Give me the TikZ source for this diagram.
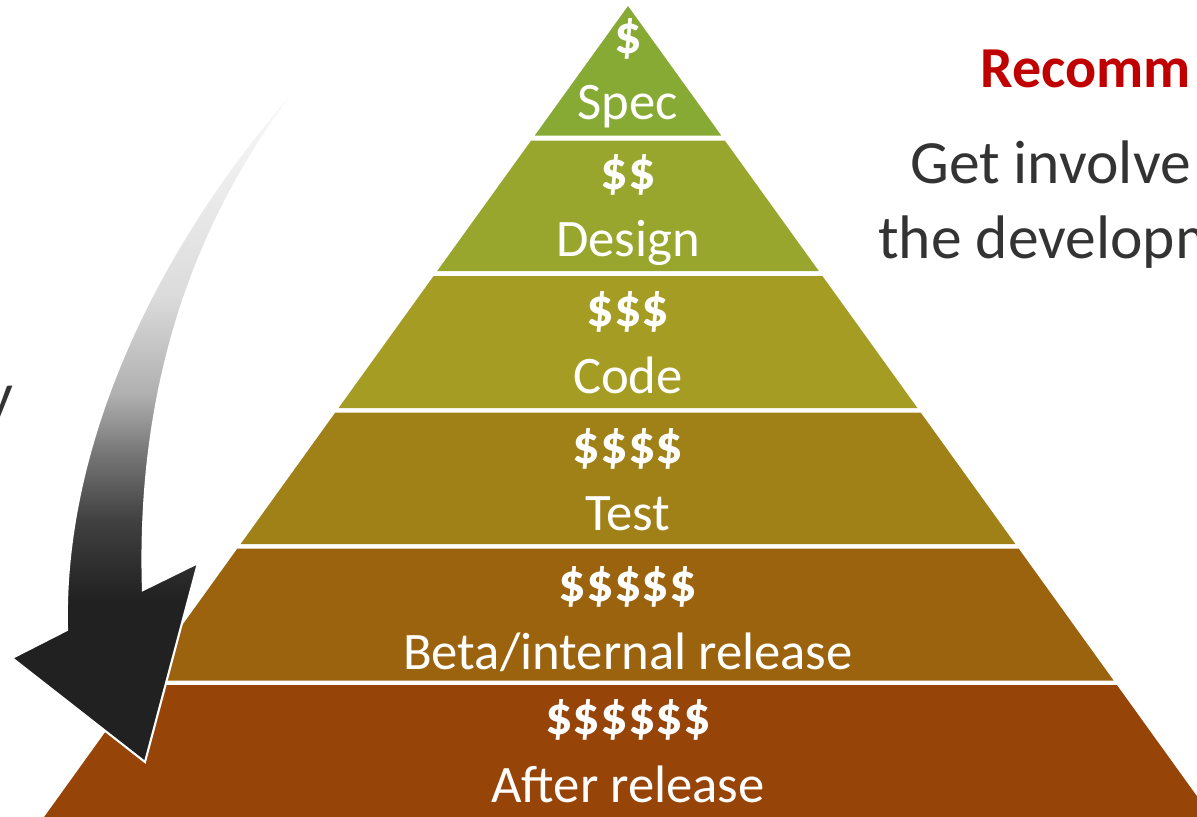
\documentclass[tikz,border=0pt]{standalone}
\usepackage{fontspec}
\setmainfont{Carlito}

\definecolor{specgreen}{HTML}{86AA34}
\definecolor{designgreen}{HTML}{98A62D}
\definecolor{codeolive}{HTML}{A59D23}
\definecolor{testolive}{HTML}{A08118}
\definecolor{betabrown}{HTML}{9C630E}
\definecolor{afterbrown}{HTML}{974408}
\definecolor{recred}{HTML}{C00000}
\definecolor{textgray}{HTML}{333333}

% fading for the big arrow, top is white, bottom is almost black
\pgfdeclareverticalshading{arrowfade}{100bp}{color(0bp)=(black!87); color(36.5bp)=(black!87);
  color(42bp)=(black!75); color(47bp)=(black!53); color(51bp)=(black!31); color(58bp)=(black!14);
  color(67.5bp)=(black!6); color(75bp)=(white); color(100bp)=(white)}

\begin{document}
\begin{tikzpicture}[x=0.02cm,y=-0.02cm,
    cost/.style={font=\fontsize{31}{37}\selectfont\bfseries,text=white,anchor=base,inner sep=0pt},
    stage/.style={font=\fontsize{30}{36}\selectfont,text=white,anchor=base,inner sep=0pt},
    side text/.style={font=\fontsize{35}{42}\selectfont,text=textgray,anchor=base west,inner sep=0pt}]

    \useasboundingbox (0,0) rectangle (1197,816);
    \clip (0,0) rectangle (1197,816);

    % pyramid layers
    \foreach \ya/\yb/\col in {6/135.5/specgreen,140.5/271/designgreen,276/408/codeolive,
                              412.5/544/testolive,548.5/680.5/betabrown,685/830/afterbrown}
        \fill[\col] ({628-0.72*(\ya-6)},\ya) -- ({628+0.72*(\ya-6)},\ya)
                 -- ({628+0.72*(\yb-6)},\yb) -- ({628-0.72*(\yb-6)},\yb) -- cycle;

    \node[cost] (c1) at (628,53) {\$};
    \node[stage] (s1) at (628,119) {Spec};
    \node[cost] (c2) at (628,189) {\$\$};
    \node[stage] (s2) at (628,256) {Design};
    \node[cost] (c3) at (628,326) {\$\$\$};
    \node[stage] (s3) at (628,393) {Code};
    \node[cost] (c4) at (628,463) {\$\$\$\$};
    \node[stage] (s4) at (628,530) {Test};
    \node[cost] (c5) at (628,601) {\$\$\$\$\$};
    \node[stage] (s5) at (628,669) {Beta/internal release};
    \node[cost] (c6) at (628,734) {\$\$\$\$\$\$};
    \node[stage] (s6) at (628,802) {After release};

    % the cost arrow
    \shade[shading=arrowfade,draw=white,line width=1.2pt,line join=miter]
        (325,55) .. controls (225,170) and (135,340) .. (143,590) -- (198,563) -- (145,762)
        -- (12,658) -- (67,630) .. controls (62,440) and (160,230) .. (325,55) -- cycle;

    \node[side text,anchor=base east] (y) at (14,415) {y};

    \node[side text,font=\fontsize{33}{40}\selectfont\bfseries,text=recred] (rec) at (980,87) {Recomm};
    \node[side text] (get) at (910,183) {Get involve};
    \node[side text] (dev) at (878,258) {the developm};

\end{tikzpicture}
\end{document}
